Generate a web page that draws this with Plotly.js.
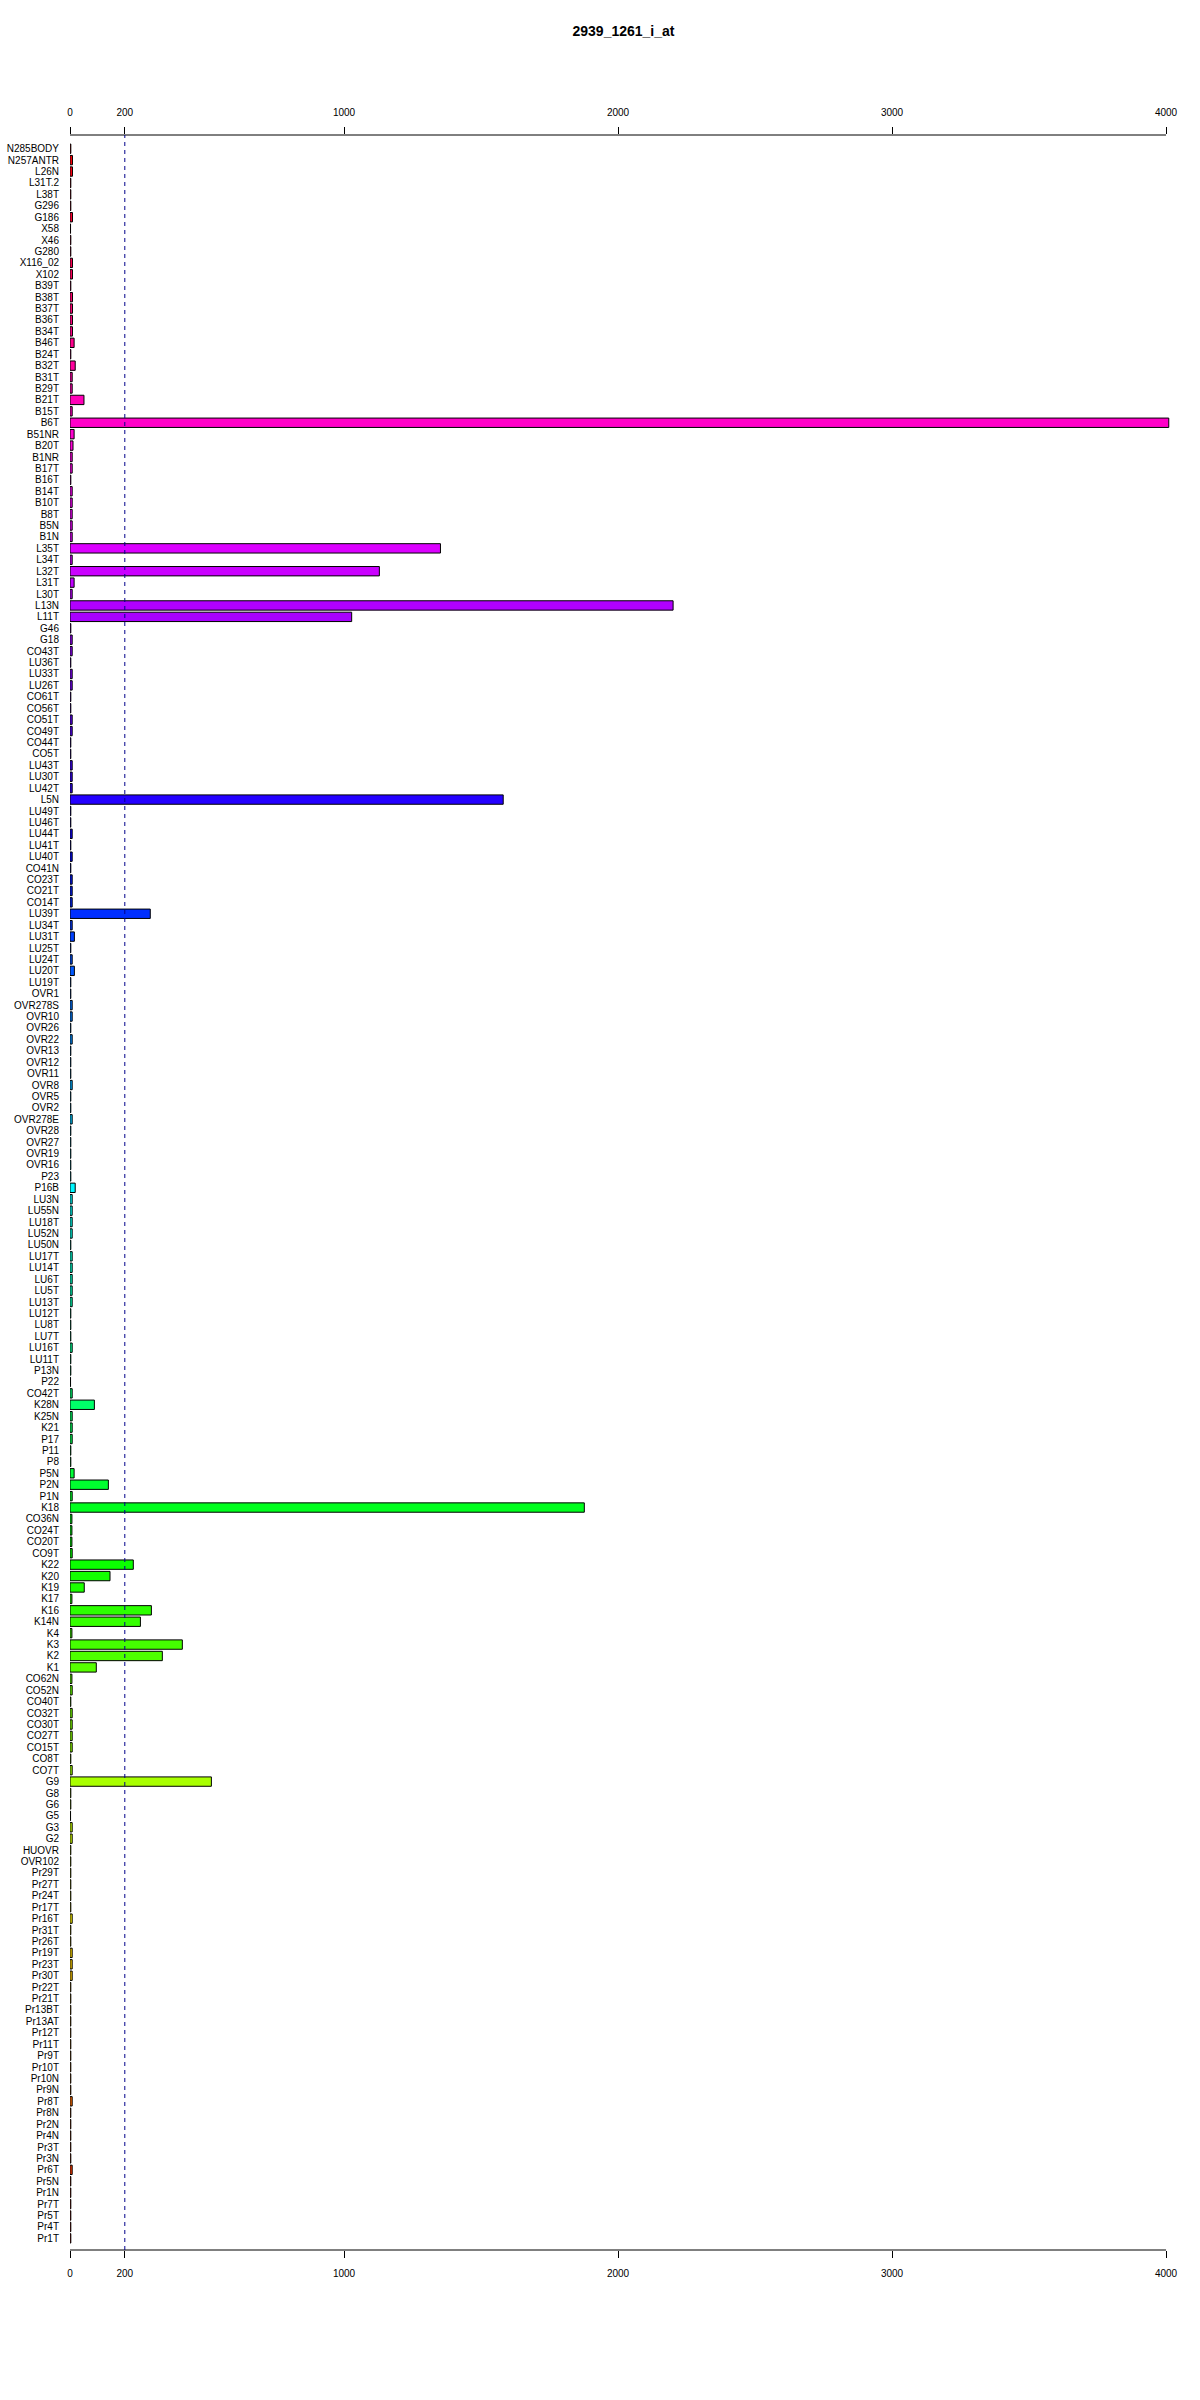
<!DOCTYPE html>
<html>
<head>
<meta charset="utf-8">
<script src="https://cdn.plot.ly/plotly-3.0.1.min.js"></script>
<style>
  html, body { margin: 0; padding: 0; background: #fff; }
  #chart { width: 1200px; height: 2400px; }
</style>
</head>
<body>
<div id="chart"></div>
<script>
const chartTitle = "2939_1261_i_at";
const xTickVals = [0, 200, 1000, 2000, 3000, 4000];
const xTickText = ["0", "200", "1000", "2000", "3000", "4000"];
const thresholdValue = 200;

const categories = [
  "N285BODY","N257ANTR","L26N","L31T.2","L38T","G296","G186","X58","X46","G280",
  "X116_02","X102","B39T","B38T","B37T","B36T","B34T","B46T","B24T","B32T",
  "B31T","B29T","B21T","B15T","B6T","B51NR","B20T","B1NR","B17T","B16T",
  "B14T","B10T","B8T","B5N","B1N","L35T","L34T","L32T","L31T","L30T",
  "L13N","L11T","G46","G18","CO43T","LU36T","LU33T","LU26T","CO61T","CO56T",
  "CO51T","CO49T","CO44T","CO5T","LU43T","LU30T","LU42T","L5N","LU49T","LU46T",
  "LU44T","LU41T","LU40T","CO41N","CO23T","CO21T","CO14T","LU39T","LU34T","LU31T",
  "LU25T","LU24T","LU20T","LU19T","OVR1","OVR278S","OVR10","OVR26","OVR22","OVR13",
  "OVR12","OVR11","OVR8","OVR5","OVR2","OVR278E","OVR28","OVR27","OVR19","OVR16",
  "P23","P16B","LU3N","LU55N","LU18T","LU52N","LU50N","LU17T","LU14T","LU6T",
  "LU5T","LU13T","LU12T","LU8T","LU7T","LU16T","LU11T","P13N","P22","CO42T",
  "K28N","K25N","K21","P17","P11","P8","P5N","P2N","P1N","K18",
  "CO36N","CO24T","CO20T","CO9T","K22","K20","K19","K17","K16","K14N",
  "K4","K3","K2","K1","CO62N","CO52N","CO40T","CO32T","CO30T","CO27T",
  "CO15T","CO8T","CO7T","G9","G8","G6","G5","G3","G2","HUOVR",
  "OVR102","Pr29T","Pr27T","Pr24T","Pr17T","Pr16T","Pr31T","Pr26T","Pr19T","Pr23T",
  "Pr30T","Pr22T","Pr21T","Pr13BT","Pr13AT","Pr12T","Pr11T","Pr9T","Pr10T","Pr10N",
  "Pr9N","Pr8T","Pr8N","Pr2N","Pr4N","Pr3T","Pr3N","Pr6T","Pr5N","Pr1N",
  "Pr7T","Pr5T","Pr4T","Pr1T"
];

const values = [
  3,9,9,3,3,3,9,2,3,3,
  9,9,3,9,9,9,9,15,3,19,
  8,8,51,8,4010,15,11,8,8,3,
  8,8,8,8,8,1352,8,1129,15,8,
  2201,1028,3,8,8,3,8,8,3,3,
  8,8,3,3,8,8,8,1581,3,3,
  8,3,8,3,8,8,8,293,8,16,
  3,8,16,3,3,8,8,3,8,3,
  3,3,8,3,3,8,3,3,3,3,
  3,19,8,8,8,8,3,8,8,8,
  8,8,3,3,3,8,3,3,2,8,
  89,8,8,8,3,3,15,140,8,1877,
  7,7,7,8,231,146,52,7,297,257,
  7,410,337,96,7,8,3,8,8,8,
  8,3,8,516,3,3,2,8,8,3,
  3,3,3,3,3,8,3,3,8,8,
  8,3,3,3,3,3,3,3,3,3,
  3,8,3,3,3,3,3,8,3,3,
  3,3,3,3
];

function hsvToHex(h, s, v) {
  const i = Math.floor(h * 6), f = h * 6 - i;
  const p = v * (1 - s), q = v * (1 - f * s), t = v * (1 - (1 - f) * s);
  let r, g, b;
  switch (((i % 6) + 6) % 6) {
    case 0: r = v; g = t; b = p; break;
    case 1: r = q; g = v; b = p; break;
    case 2: r = p; g = v; b = t; break;
    case 3: r = p; g = q; b = v; break;
    case 4: r = t; g = p; b = v; break;
    default: r = v; g = p; b = q;
  }
  const hx = x => Math.round(x * 255).toString(16).padStart(2, "0");
  return "#" + hx(r) + hx(g) + hx(b);
}
const n = categories.length;
const barColors = categories.map((c, i) => hsvToHex(((n - i) / n) % 1, 1, 1));

const FONT = "Liberation Sans, Arial, sans-serif";
const xRange = [0, 4040];

const traces = [
  {
    type: "bar",
    orientation: "h",
    y: categories,
    x: values,
    width: 0.82,
    marker: { color: barColors, line: { color: "#000000", width: 1 } },
    hoverinfo: "skip",
    xaxis: "x",
    yaxis: "y"
  },
  {
    type: "scatter",
    mode: "markers",
    x: [0],
    y: [categories[0]],
    marker: { opacity: 0 },
    hoverinfo: "skip",
    showlegend: false,
    xaxis: "x2",
    yaxis: "y"
  }
];

const axisCommon = {
  range: xRange,
  autorange: false,
  tickmode: "array",
  tickvals: xTickVals,
  ticktext: xTickText,
  ticks: "outside",
  ticklen: 7,
  tickwidth: 1,
  tickcolor: "#000",
  showline: false,
  showgrid: false,
  zeroline: false,
  tickfont: { family: FONT, size: 10, color: "#000" },
  ticklabelstandoff: 7,
  fixedrange: true
};

const layout = {
  width: 1200,
  height: 2400,
  paper_bgcolor: "#fff",
  plot_bgcolor: "#fff",
  showlegend: false,
  margin: { l: 70, r: 23, t: 135, b: 150 },
  title: {
    text: "<b>" + chartTitle + "</b>",
    font: { family: FONT, size: 14, color: "#000" },
    x: 0.5,
    xref: "paper",
    y: 1 - 31 / 2400,
    yref: "container",
    yanchor: "middle"
  },
  xaxis: Object.assign({}, axisCommon, { side: "bottom" }),
  xaxis2: Object.assign({}, axisCommon, { side: "top", overlaying: "x", matches: "x" }),
  yaxis: {
    type: "category",
    categoryorder: "array",
    categoryarray: categories,
    tickmode: "array",
    tickvals: categories,
    ticktext: categories,
    range: [n - 1 + 1.02, -1.2],
    autorange: false,
    ticks: "",
    showline: false,
    showgrid: false,
    zeroline: false,
    tickfont: { family: FONT, size: 10, color: "#000" },
    ticklabelstandoff: 10,
    fixedrange: true
  },
  shapes: [
    { type: "line", xref: "x", yref: "paper", x0: 0, x1: 4000, y0: 0, y1: 0, line: { color: "#000", width: 1 } },
    { type: "line", xref: "x", yref: "paper", x0: 0, x1: 4000, y0: 1, y1: 1, line: { color: "#000", width: 1 } },
    { type: "line", xref: "x", yref: "paper", x0: thresholdValue, x1: thresholdValue, y0: 0, y1: 1, line: { color: "#00008B", width: 1, dash: "4px,4px" } }
  ]
};

Plotly.newPlot("chart", traces, layout, { displayModeBar: false, staticPlot: true });
</script>
</body>
</html>
